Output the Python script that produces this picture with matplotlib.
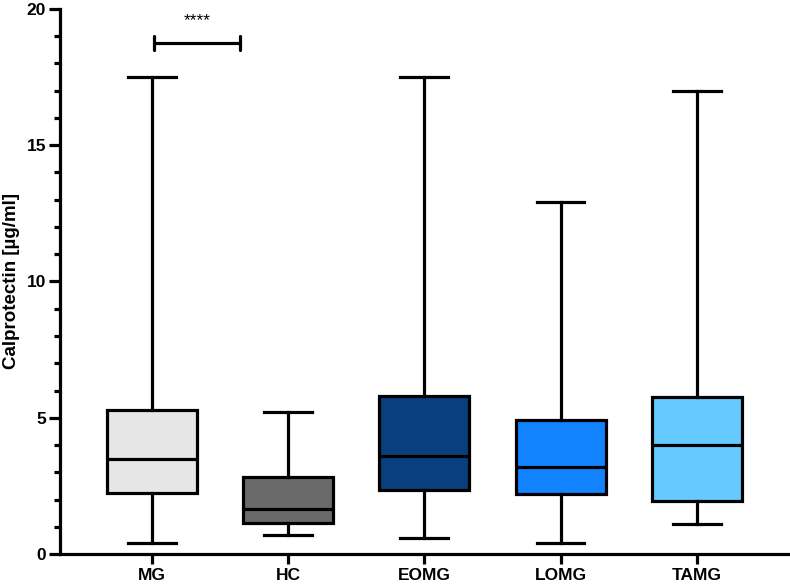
import matplotlib
matplotlib.use("Agg")
import matplotlib.pyplot as plt
from matplotlib.ticker import MultipleLocator

plt.rcParams["font.family"] = ["Liberation Sans", "DejaVu Sans"]
plt.rcParams["font.weight"] = "bold"

# Box summary (min/max whiskers)
groups = ["MG", "HC", "EOMG", "LOMG", "TAMG"]
whisk_lo = [0.4, 0.7, 0.6, 0.4, 1.1]
q1 = [2.25, 1.15, 2.35, 2.2, 1.95]
median = [3.5, 1.65, 3.6, 3.2, 4.0]
q3 = [5.28, 2.82, 5.8, 4.93, 5.77]
whisk_hi = [17.5, 5.2, 17.5, 12.9, 17.0]
colors = ["#e6e6e6", "#6a6a6a", "#083f7c", "#1282ff", "#66c9ff"]

# significance bracket MG vs HC
sig_x = [0.02, 0.65]
sig_y = 18.75
sig_text = "****"

fig = plt.figure(figsize=(7.9, 5.87), dpi=100)
ax = fig.add_axes([0.076, 0.056, 0.921, 0.929])

stats = []
for i, g in enumerate(groups):
    stats.append({
        "label": g, "whislo": whisk_lo[i], "q1": q1[i], "med": median[i],
        "q3": q3[i], "whishi": whisk_hi[i], "fliers": [],
    })

lw = 2.3
fs = 12.5
bp = ax.bxp(stats, positions=range(len(groups)), widths=0.66, patch_artist=True,
            showfliers=False,
            boxprops=dict(linewidth=lw, edgecolor="black"),
            medianprops=dict(linewidth=lw, color="black"),
            whiskerprops=dict(linewidth=lw, color="black"),
            capprops=dict(linewidth=lw, color="black"),
            capwidths=0.35)
for patch, c in zip(bp["boxes"], colors):
    patch.set_facecolor(c)

# bracket
cap = 0.27
ax.plot([sig_x[0], sig_x[1]], [sig_y, sig_y], color="black", lw=lw, solid_capstyle="butt")
for xv in sig_x:
    ax.plot([xv, xv], [sig_y - cap, sig_y + cap], color="black", lw=lw, solid_capstyle="round")
ax.text(sum(sig_x) / 2, sig_y + 0.55, sig_text, ha="center", va="bottom",
        fontsize=12.5, fontweight="normal")

ax.set_xlim(-0.673, 4.666)
ax.set_ylim(0, 20)
ax.yaxis.set_major_locator(MultipleLocator(5))
ax.yaxis.set_minor_locator(MultipleLocator(1))
ax.set_xticks(range(len(groups)))
ax.set_xticklabels(groups, fontsize=fs, fontweight="bold")
for lab in ax.get_yticklabels():
    lab.set_fontweight("bold")
ax.tick_params(axis="y", which="major", length=8, width=lw, labelsize=fs, pad=2)
ax.tick_params(axis="y", which="minor", length=4.5, width=lw)
ax.tick_params(axis="x", which="major", length=7, width=lw, labelsize=fs, pad=3)

ax.spines["top"].set_visible(False)
ax.spines["right"].set_visible(False)
ax.spines["left"].set_linewidth(lw)
ax.spines["bottom"].set_linewidth(lw)

ax.set_ylabel("Calprotectin [µg/ml]", fontsize=13.5, fontweight="bold", labelpad=5)

fig.savefig("out.png", dpi=100)
